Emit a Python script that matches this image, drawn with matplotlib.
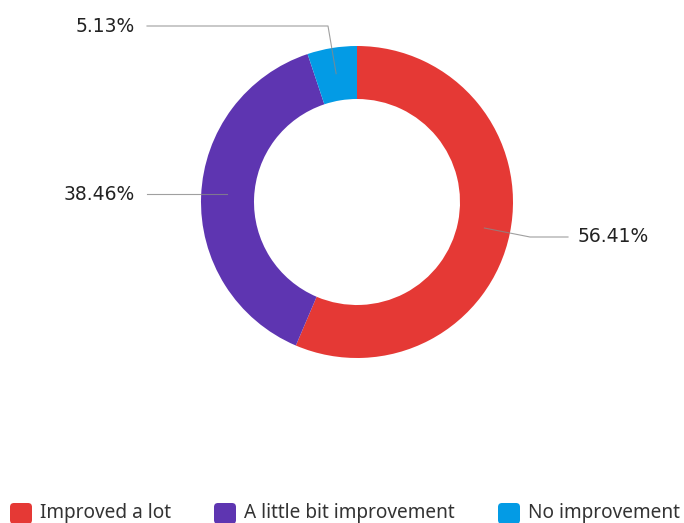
import numpy as np
import matplotlib
matplotlib.use('Agg')
import matplotlib.pyplot as plt
from matplotlib.patches import FancyBboxPatch

categories = ['Improved a lot', 'A little bit improvement', 'No improvement']
shares = [56.41, 38.46, 5.13]
colors = ['#E53935', '#5E35B1', '#039BE5']

W, H = 684, 523
fig = plt.figure(figsize=(W / 100, H / 100), dpi=100)
ax = fig.add_axes([0, 0, 1, 1])

cx, cy = 357, H - 202
r_out, r_in = 156, 103
wedges, _ = ax.pie(shares, colors=colors, startangle=90, counterclock=False,
                   radius=r_out, center=(cx, cy), frame=True,
                   wedgeprops=dict(width=r_out - r_in, linewidth=0))
ax.set_xlim(0, W)
ax.set_ylim(0, H)
ax.set_aspect('equal')
ax.axis('off')

# leader lines: anchor in ring middle -> elbow -> end, label next to end
r_mid = 130
paths = {
    0: ((530, H - 237), (568, H - 237), 'left'),
    1: (None, (147, H - 194), 'right'),
    2: ((328, H - 26), (147, H - 26), 'right'),
}
for i, w in enumerate(wedges):
    ang = np.deg2rad((w.theta1 + w.theta2) / 2)
    ax0, ay0 = cx + r_mid * np.cos(ang), cy + r_mid * np.sin(ang)
    elbow, end, ha = paths[i]
    xs, ys = [ax0], [ay0]
    if elbow is not None:
        xs.append(elbow[0]); ys.append(elbow[1])
    else:
        ys[0] = end[1]
    xs.append(end[0]); ys.append(end[1])
    ax.plot(xs, ys, color='#888888', lw=0.8, alpha=0.8)
    tx = end[0] + 10 if ha == 'left' else end[0] - 12
    ax.text(tx, end[1], '%.2f%%' % shares[i], ha=ha, va='center',
            fontsize=13.5, color='#222222', family='DejaVu Sans')

# legend along the bottom edge
legend_x = [10, 214, 498]
for i, name in enumerate(categories):
    box = FancyBboxPatch((legend_x[i], H - 524), 22, 21,
                         boxstyle='round,pad=0,rounding_size=4',
                         facecolor=colors[i], edgecolor='none')
    ax.add_patch(box)
    ax.text(legend_x[i] + 30, H - 513, name, ha='left', va='center',
            fontsize=13.7, color='#333333', family='Noto Sans')

fig.savefig('out.png', dpi=100)
